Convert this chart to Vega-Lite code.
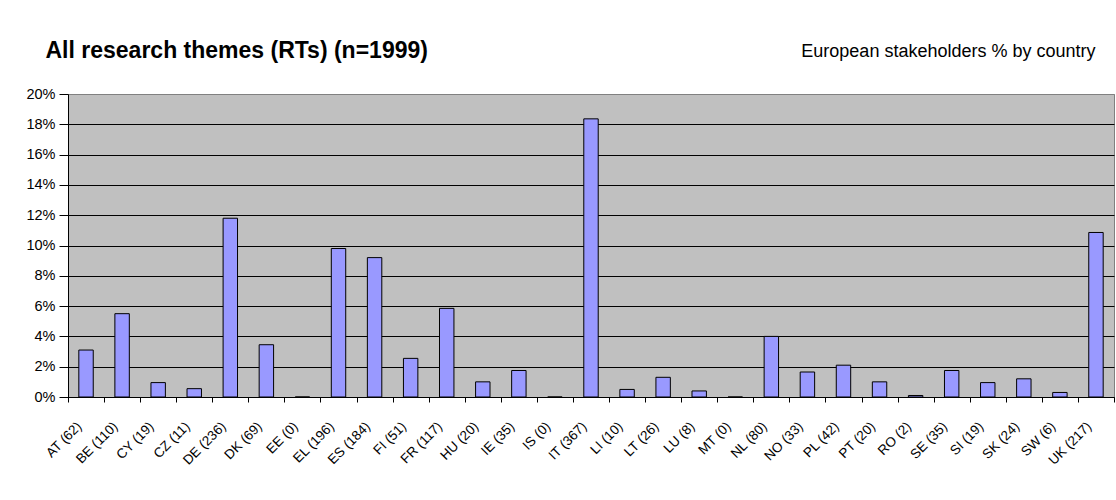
{
  "$schema": "https://vega.github.io/schema/vega-lite/v6.json",
  "width": 1046,
  "height": 303,
  "autosize": {"type": "none"},
  "padding": {"left": 68, "top": 94, "right": 2, "bottom": 103},
  "background": "white",
  "config": {
    "font": "Liberation Sans",
    "view": {"fill": "#C0C0C0", "stroke": "#808080", "strokeWidth": 1}
  },
  "data": {
    "values": [
      {"label": "AT (62)", "value": 0.031},
      {"label": "BE (110)", "value": 0.055},
      {"label": "CY (19)", "value": 0.0095},
      {"label": "CZ (11)", "value": 0.0055},
      {"label": "DE (236)", "value": 0.118},
      {"label": "DK (69)", "value": 0.0345},
      {"label": "EE (0)", "value": 0},
      {"label": "EL (196)", "value": 0.098},
      {"label": "ES (184)", "value": 0.092},
      {"label": "FI (51)", "value": 0.0255},
      {"label": "FR (117)", "value": 0.0585},
      {"label": "HU (20)", "value": 0.01},
      {"label": "IE (35)", "value": 0.0175},
      {"label": "IS (0)", "value": 0},
      {"label": "IT (367)", "value": 0.1836},
      {"label": "LI (10)", "value": 0.005},
      {"label": "LT (26)", "value": 0.013},
      {"label": "LU (8)", "value": 0.004},
      {"label": "MT (0)", "value": 0},
      {"label": "NL (80)", "value": 0.04},
      {"label": "NO (33)", "value": 0.0165},
      {"label": "PL (42)", "value": 0.021},
      {"label": "PT (20)", "value": 0.01},
      {"label": "RO (2)", "value": 0.001},
      {"label": "SE (35)", "value": 0.0175},
      {"label": "SI (19)", "value": 0.0095},
      {"label": "SK (24)", "value": 0.012},
      {"label": "SW (6)", "value": 0.003},
      {"label": "UK (217)", "value": 0.1086}
    ]
  },
  "mark": {"type": "bar", "fill": "#9999FF", "stroke": "black", "strokeWidth": 1, "width": {"band": 0.4}},
  "encoding": {
    "x": {
      "field": "label",
      "type": "nominal",
      "sort": null,
      "scale": {"paddingInner": 0, "paddingOuter": 0},
      "axis": {
        "title": "All research themes (RTs) (n=1999)",
        "titleX": -23,
        "titleY": -340,
        "titleAlign": "left",
        "titleAnchor": null,
        "titleAngle": 0,
        "titleBaseline": "alphabetic",
        "titleFontSize": 23,
        "titleFontWeight": "bold",
        "titleColor": "black",
        "labelAngle": -45,
        "labelAlign": "right",
        "labelBaseline": "middle",
        "labelFontSize": 13.5,
        "labelColor": "black",
        "labelPadding": 22,
        "labelOffset": -7,
        "labelOverlap": false,
        "tickBand": "extent",
        "tickColor": "black",
        "tickSize": 5,
        "domainColor": "black",
        "grid": false
      }
    },
    "y": {
      "field": "value",
      "type": "quantitative",
      "scale": {"domain": [0, 0.2], "nice": false},
      "axis": {
        "values": [0, 0.02, 0.04, 0.06, 0.08, 0.1, 0.12, 0.14, 0.16, 0.18, 0.2],
        "format": ".0%",
        "title": "European stakeholders % by country",
        "titleAngle": 0,
        "titleX": 1027,
        "titleY": -38,
        "titleAlign": "right",
        "titleBaseline": "alphabetic",
        "titleFontSize": 18,
        "titleFontWeight": "normal",
        "titleColor": "black",
        "labelFontSize": 14.5,
        "labelColor": "black",
        "labelPadding": 4,
        "tickSize": 9,
        "tickColor": "black",
        "domainColor": "black",
        "grid": true,
        "gridOpacity": 1,
        "gridColor": {"condition": {"test": "datum.value >= 0.199", "value": "#808080"}, "value": "black"}
      }
    }
  }
}
